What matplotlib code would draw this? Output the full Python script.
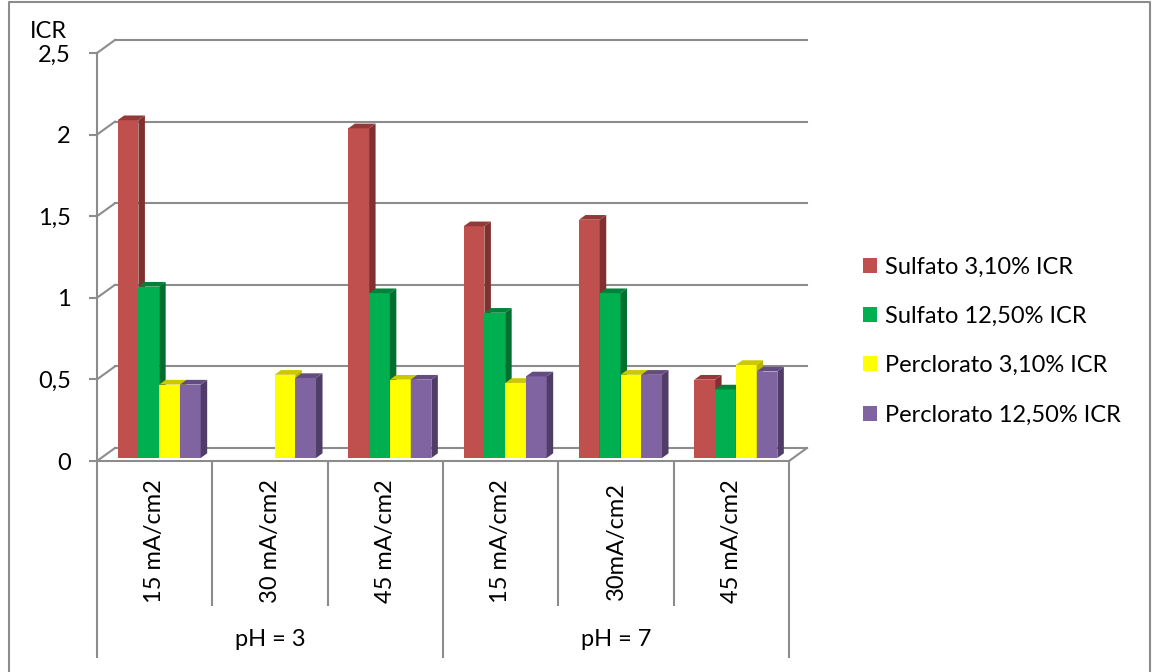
import numpy as np
import matplotlib
matplotlib.use("Agg")
import matplotlib.pyplot as plt
from matplotlib.patches import Polygon, Patch
from matplotlib.lines import Line2D

plt.rcParams['font.family'] = ['Lato', 'DejaVu Sans']

# ---- data ----
currents = ["15 mA/cm2", "30 mA/cm2", "45 mA/cm2", "15 mA/cm2", "30mA/cm2", "45 mA/cm2"]
ph_groups = ["pH = 3", "pH = 7"]
series_names = ["Sulfato 3,10% ICR", "Sulfato 12,50% ICR",
                "Perclorato 3,10% ICR", "Perclorato 12,50% ICR"]
sulfato_310 = [2.07, np.nan, 2.02, 1.42, 1.46, 0.48]
sulfato_1250 = [1.05, np.nan, 1.01, 0.89, 1.01, 0.42]
perclorato_310 = [0.45, 0.51, 0.48, 0.46, 0.51, 0.57]
perclorato_1250 = [0.45, 0.49, 0.48, 0.50, 0.51, 0.53]
y_ticks = [0, 0.5, 1, 1.5, 2, 2.5]
y_tick_labels = ["0", "0,5", "1", "1,5", "2", "2,5"]

series = [sulfato_310, sulfato_1250, perclorato_310, perclorato_1250]
face_colors = ["#C0504D", "#00B050", "#FFFF00", "#8064A2"]
side_colors = ["#80302E", "#006F2F", "#B8B400", "#4F3D68"]
top_colors = ["#94393A", "#00823A", "#CCC800", "#624C80"]

W, H = 1154, 672
DPI = 100
FS = 17
fig = plt.figure(figsize=(W / DPI, H / DPI), dpi=DPI)

# front plane of the plot box, in pixels
x0_px, x1_px = 97, 789
y0_px, y1_px = 461, 53
ax = fig.add_axes([x0_px / W, (H - y0_px) / H,
                   (x1_px - x0_px) / W, (y0_px - y1_px) / H])
ncat = len(currents)
ax.set_xlim(0, ncat)
ax.set_ylim(0, 2.5)

px_cat = (x1_px - x0_px) / ncat
px_val = (y0_px - y1_px) / 2.5

# depth offsets (pixels -> data units)
def dx(p):
    return p / px_cat

def dy(p):
    return p / px_val

WALL_DX, WALL_DY = dx(18), dy(13)
PLANE_DX, PLANE_DY = dx(4.5), dy(3)
BAR_DX, BAR_DY = dx(6.5), dy(4.7)

grid_col = "#8C8C8C"
grid_lw = 1.5

# back wall gridlines and side-wall diagonals
for v in y_ticks:
    ax.add_line(Line2D([WALL_DX, ncat + WALL_DX], [v + WALL_DY, v + WALL_DY],
                       color=grid_col, lw=grid_lw, clip_on=False, zorder=1))
    ax.add_line(Line2D([0, WALL_DX], [v, v + WALL_DY],
                       color=grid_col, lw=grid_lw, clip_on=False, zorder=1))
# floor right edge
ax.add_line(Line2D([ncat, ncat + WALL_DX], [0, WALL_DY],
                   color=grid_col, lw=grid_lw, clip_on=False, zorder=1))

# bars with side and top faces
bar_w = 0.18
group_w = bar_w * len(series)
for i in range(ncat):
    for j, vals in enumerate(series):
        v = vals[i]
        if np.isnan(v):
            continue
        xl = i + 0.5 - group_w / 2 + j * bar_w + PLANE_DX
        xr = xl + bar_w
        yb = PLANE_DY
        yt = PLANE_DY + v
        z = 3 + i * 10 + j
        ax.bar(xl, v, width=bar_w, bottom=yb, align='edge',
               color=face_colors[j], linewidth=0, zorder=z)
        ax.add_patch(Polygon([(xr, yb), (xr + BAR_DX, yb + BAR_DY),
                              (xr + BAR_DX, yt + BAR_DY), (xr, yt)],
                             closed=True, facecolor=side_colors[j],
                             linewidth=0, zorder=z))
        ax.add_patch(Polygon([(xl, yt), (xr, yt), (xr + BAR_DX, yt + BAR_DY),
                              (xl + BAR_DX, yt + BAR_DY)],
                             closed=True, facecolor=top_colors[j],
                             linewidth=0, zorder=z))

# axes styling
for s in ["top", "right"]:
    ax.spines[s].set_visible(False)
for s in ["left", "bottom"]:
    ax.spines[s].set_color(grid_col)
    ax.spines[s].set_linewidth(grid_lw)
    ax.spines[s].set_zorder(50)

ax.set_yticks(y_ticks)
ax.set_yticklabels(y_tick_labels, fontsize=FS)
ax.tick_params(axis='y', direction='out', length=8 * 72 / DPI, width=grid_lw,
               color=grid_col, pad=18 * 72 / DPI, labelcolor='black')

# category dividers as ticks: long ones between pH groups
ax.set_xticks([0, 3, 6])
ax.set_xticks([1, 2, 4, 5], minor=True)
ax.set_xticklabels([])
ax.tick_params(axis='x', which='major', direction='out', length=197 * 72 / DPI,
               width=grid_lw, color=grid_col)
ax.tick_params(axis='x', which='minor', direction='out', length=145 * 72 / DPI,
               width=grid_lw, color=grid_col)

# category labels
px_to_axes = 1 / (y0_px - y1_px)
for i, lab in enumerate(currents):
    ax.text(i + 0.5, -(541 - y0_px) * px_to_axes, lab,
            transform=ax.get_xaxis_transform(), rotation=90,
            ha='center', va='center', fontsize=FS, clip_on=False)
for g, lab in enumerate(ph_groups):
    ax.text(g * 3 + 1.5, -(640 - y0_px) * px_to_axes, lab,
            transform=ax.get_xaxis_transform(),
            ha='center', va='center', fontsize=FS, clip_on=False)

# axis title
fig.text(30 / W, 1 - 31 / H, "ICR", ha='left', va='center', fontsize=FS)

# legend
handles = [Patch(facecolor=c, edgecolor='none') for c in face_colors]
fig.legend(handles, series_names, loc='center left',
           bbox_to_anchor=(851 / W, 1 - 341 / H), frameon=False,
           fontsize=FS, handlelength=0.6, handleheight=0.6,
           handletextpad=0.35, labelspacing=1.2, borderpad=0)

# chart border (open at the bottom edge)
fig.add_artist(Line2D([9 / W, 9 / W, 1150 / W, 1150 / W],
                      [-0.05, 1 - 2 / H, 1 - 2 / H, -0.05],
                      transform=fig.transFigure, color=grid_col, lw=1.5))

fig.savefig("out.png", dpi=DPI, facecolor='white')
